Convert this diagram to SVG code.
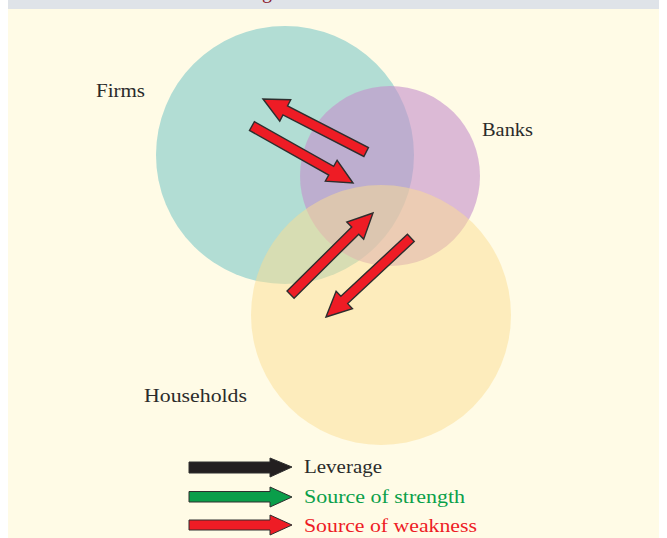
<svg xmlns="http://www.w3.org/2000/svg" width="667" height="538" viewBox="0 0 667 538">
<defs>
<style>
.lbl{font-family:"Liberation Serif","DejaVu Serif",serif;font-size:18px;fill:#2b2b2b}
.arr{fill:#ee1c25;stroke:#2e2e2e;stroke-width:1.4;stroke-linejoin:miter}
.leg{stroke:#2e2e2e;stroke-width:1}
</style>
<path id="a" d="M0,0 L-25,-12 L-25,-5 L-116,-5 L-116,5 L-25,5 L-25,12 Z"/>
</defs>
<rect x="0" y="0" width="667" height="538" fill="#ffffff"/>
<rect x="8" y="0" width="651" height="9" fill="#dfe3e8"/>
<rect x="8" y="9" width="651" height="529" fill="#fffbe6"/>
<text x="262" y="-2" style="font-family:'Liberation Serif',serif;font-size:20px;fill:#8b1a2b">g</text>
<g id="firms">
<circle cx="285" cy="155" r="129" fill="#b2ddd4"/>
<text class="lbl" x="96" y="97" textLength="49" lengthAdjust="spacingAndGlyphs">Firms</text>
</g>
<g id="banks">
<circle cx="390" cy="176" r="90" fill="#c490cc" fill-opacity="0.6"/>
<text class="lbl" x="482" y="136" textLength="51" lengthAdjust="spacingAndGlyphs">Banks</text>
</g>
<g id="households">
<circle cx="381" cy="315" r="130" fill="#fbdd92" fill-opacity="0.5"/>
<text class="lbl" x="144" y="402" textLength="103" lengthAdjust="spacingAndGlyphs">Households</text>
</g>
<g id="connectors">
<use href="#a" class="arr" transform="translate(263,99) rotate(207.2)"/>
<use href="#a" class="arr" transform="translate(353,183) rotate(29.4)"/>
<use href="#a" class="arr" transform="translate(373,213) rotate(-44.7)"/>
<use href="#a" class="arr" transform="translate(326,317) rotate(137)"/>
</g>
<g id="legend">
<path class="leg" fill="#231f20" d="M189,462 L270,462 L270,458 L292,467 L270,477 L270,473 L189,473 Z"/>
<path class="leg" fill="#0a9e4a" d="M189,491.5 L270,491.5 L270,487 L292,497 L270,507 L270,502 L189,502 Z"/>
<path class="leg" fill="#ee1c25" d="M189,520 L270,520 L270,515 L292,525 L270,535 L270,530 L189,530 Z"/>
<text class="lbl" x="304" y="473" textLength="78" lengthAdjust="spacingAndGlyphs">Leverage</text>
<text class="lbl" x="304" y="503" style="fill:#0aa04a" textLength="161" lengthAdjust="spacingAndGlyphs">Source of strength</text>
<text class="lbl" x="304" y="532" style="fill:#ee1c25" textLength="173" lengthAdjust="spacingAndGlyphs">Source of weakness</text>
</g>
</svg>
